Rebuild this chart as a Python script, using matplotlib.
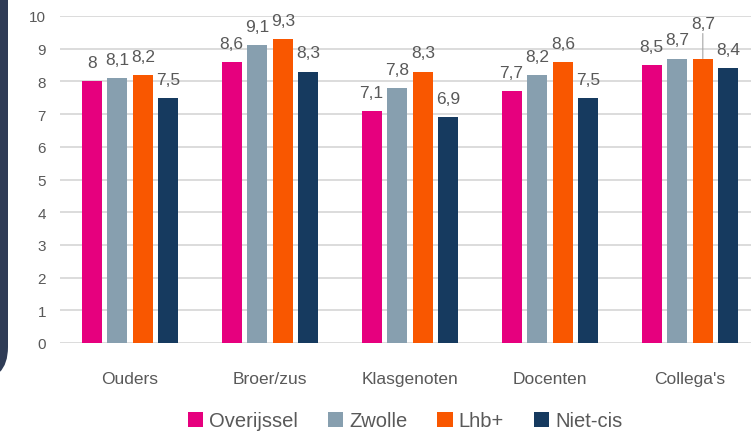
import matplotlib
matplotlib.use("Agg")
import matplotlib.pyplot as plt
from matplotlib.patches import FancyBboxPatch
import numpy as np

categories = ["Ouders", "Broer/zus", "Klasgenoten", "Docenten", "Collega's"]
series_names = ["Overijssel", "Zwolle", "Lhb+", "Niet-cis"]
overijssel = [8.0, 8.6, 7.1, 7.7, 8.5]
zwolle = [8.1, 9.1, 7.8, 8.2, 8.7]
lhb = [8.2, 9.3, 8.3, 8.6, 8.7]
nietcis = [7.5, 8.3, 6.9, 7.5, 8.4]
yticks = list(range(0, 11))

colors = ["#E6007E", "#879FAF", "#F95700", "#163A5F"]
series = [overijssel, zwolle, lhb, nietcis]

plt.rcParams['font.family'] = ['Liberation Sans', 'DejaVu Sans']
txt = "#595959"

W, H = 751, 435
fig = plt.figure(figsize=(W / 100, H / 100), dpi=100)

# decorative navy shape at the left edge
deco = FancyBboxPatch((-40, H - 382), 48, 430, boxstyle="round,pad=0,rounding_size=34",
                      transform=None, facecolor="#2F3C56", edgecolor="none")
fig.patches.append(deco)

left, right = 60, 760
top, bottom = 17, 344
ax = fig.add_axes([left / W, 1 - bottom / H, (right - left) / W, (bottom - top) / H])

x = np.arange(len(categories))
step = 0.183
bw = 0.143
for i, (vals, c, name) in enumerate(zip(series, colors, series_names)):
    pos = x + (i - 1.5) * step
    ax.bar(pos, vals, width=bw, color=c, label=name, zorder=3)
    for j, (p, v) in enumerate(zip(pos, vals)):
        lab = f"{v:g}".replace(".", ",")
        if j == 4 and i == 2:
            ax.annotate(lab, xy=(p, v), xytext=(0, 20), textcoords="offset points",
                        ha="center", va="bottom", fontsize=12.5, color=txt,
                        arrowprops=dict(arrowstyle="-", color="#A6A6A6", lw=0.8,
                                        shrinkA=0, shrinkB=0))
        else:
            ax.annotate(lab, xy=(p, v), xytext=(0, 8), textcoords="offset points",
                        ha="center", va="bottom", fontsize=12.5, color=txt)

ax.set_xlim(-0.5, 4.5)
ax.set_ylim(0, 10)
ax.set_yticks(yticks)
ax.set_yticklabels([str(t) for t in yticks], fontsize=11, color=txt)
ax.set_xticks(x)
ax.set_xticklabels(categories, fontsize=12.5, color=txt)
ax.tick_params(axis="both", length=0)
ax.tick_params(axis="y", pad=10)
ax.tick_params(axis="x", pad=20)
ax.grid(axis="y", color="#D9D9D9", lw=1.3, zorder=0)
for s in ax.spines.values():
    s.set_visible(False)
ax.patch.set_alpha(0)

handles, labels = ax.get_legend_handles_labels()
fig.legend(handles, labels, loc="center", bbox_to_anchor=(405 / W, 1 - 422 / H),
           ncol=4, frameon=False, fontsize=14.5, handlelength=0.75, handleheight=0.75,
           handletextpad=0.3, columnspacing=1.5, labelcolor=txt)

fig.savefig("out.png", dpi=100)
